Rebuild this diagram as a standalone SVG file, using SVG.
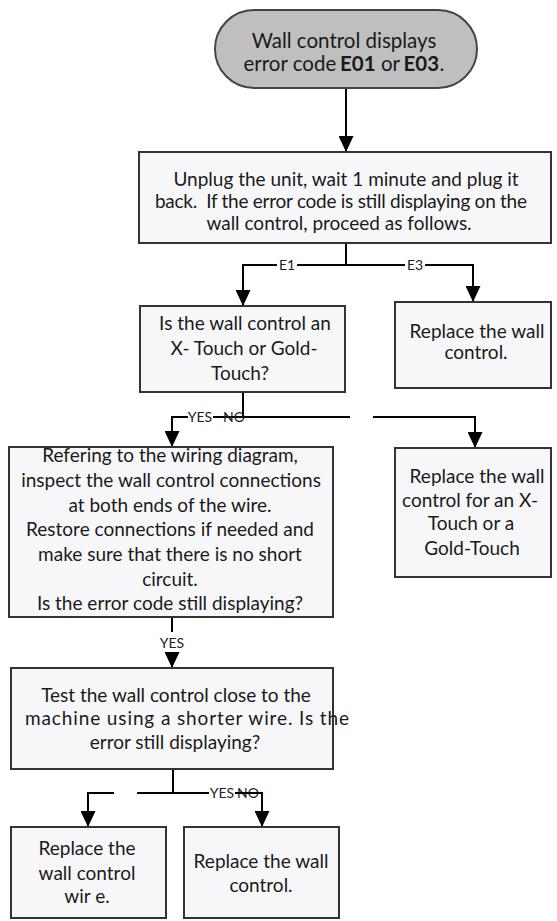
<svg xmlns="http://www.w3.org/2000/svg" width="557" height="921" viewBox="0 0 557 921">
<defs>
<marker id="ah" markerUnits="userSpaceOnUse" markerWidth="16" markerHeight="15" viewBox="0 0 16 15" refX="16" refY="7.5" orient="auto">
<path d="M0,0 L16,7.5 L0,15 Z" fill="#000"/>
</marker>
<style>
.box{fill:#f7f7f9;stroke:#333;stroke-width:2}
.term{fill:#bfbfbf;stroke:#444;stroke-width:2}
.t{font-family:Lato,"Liberation Sans",sans-serif;font-size:19px;fill:#1a1a1a;text-anchor:middle}
.s{font-family:Lato,"Liberation Sans",sans-serif;font-size:20.5px;fill:#1a1a1a}
.b{font-weight:bold}
.lbl{font-family:Lato,"Liberation Sans",sans-serif;font-size:14px;fill:#222;text-anchor:middle}
.c{fill:none;stroke:#000;stroke-width:2}
.ca{fill:none;stroke:#000;stroke-width:2;marker-end:url(#ah)}
</style>
</defs>
<rect width="557" height="921" fill="#fff"/>
<g id="connectors">
<path class="ca" d="M346,88 V152"/>
<path class="c" d="M346,243 V265"/>
<path class="ca" d="M346,265 H243 V306"/>
<path class="ca" d="M346,265 H473 V302"/>
<rect x="277" y="257" width="20" height="16" fill="#fff"/>
<text class="lbl" x="287" y="270">E1</text>
<rect x="405" y="257" width="20" height="16" fill="#fff"/>
<text class="lbl" x="415" y="270">E3</text>
<path class="c" d="M243,392 V417"/>
<path class="ca" d="M243,417 H172 V447"/>
<text class="lbl" x="234" y="422">NO</text>
<path class="c" d="M243,417 H350"/>
<path class="ca" d="M373,417 H475 V448"/>
<rect x="188" y="409" width="25" height="16" fill="#fff"/>
<text class="lbl" x="200" y="422">YES</text>
<path class="c" d="M172,617 V632"/>
<text class="lbl" x="172" y="648">YES</text>
<path class="ca" d="M172,652 V668"/>
<path class="c" d="M173,769 V793"/>
<path class="ca" d="M114,793 H88 V827"/>
<text class="lbl" x="248" y="798">NO</text>
<path class="c" d="M137,793 H210"/>
<path class="ca" d="M173,793 H262 V827"/>
<rect x="209" y="785" width="26" height="16" fill="#fff"/>
<text class="lbl" x="222" y="798">YES</text>
</g>
<g id="start">
<rect class="term" x="215" y="10" width="262" height="78" rx="39" ry="39"/>
<text class="s" x="344" y="48" text-anchor="middle">Wall control displays</text>
<text class="s" x="243.5" y="71">error code</text>
<text class="s b" x="340" y="71">E01</text>
<text class="s" x="381" y="71">or</text>
<text class="s b" x="403.5" y="71">E03</text>
<text class="s" x="439.5" y="71">.</text>
</g>
<g id="unplug">
<rect class="box" x="139" y="152" width="412" height="91"/>
<text class="t"><tspan x="346" y="186">Unplug the unit, wait 1 minute and plug it</tspan><tspan x="341" y="208" textLength="372" lengthAdjust="spacing">back.&#160; If the error code is still displaying on the</tspan><tspan x="339" y="230">wall control, proceed as follows.</tspan></text>
</g>
<g id="is-xtouch">
<rect class="box" x="140" y="306" width="205" height="86"/>
<text class="t"><tspan x="245" y="330">Is the wall control an</tspan><tspan x="244" y="355">X- Touch or Gold-</tspan><tspan x="240" y="380">Touch?</tspan></text>
</g>
<g id="replace-control-e3">
<rect class="box" x="395" y="302" width="156" height="86"/>
<text class="t"><tspan x="477" y="338">Replace the wall</tspan><tspan x="476" y="359">control.</tspan></text>
</g>
<g id="inspect">
<rect class="box" x="9" y="447" width="324" height="170"/>
<text class="t"><tspan x="170" y="462">Refering to the wiring diagram,</tspan><tspan x="171" y="487">inspect the wall control connections</tspan><tspan x="170" y="512">at both ends of the wire.</tspan><tspan x="170" y="536">Restore connections if needed and</tspan><tspan x="170" y="561">make sure that there is no short</tspan><tspan x="170" y="586">circuit.</tspan><tspan x="170" y="610">Is the error code still displaying?</tspan></text>
</g>
<g id="replace-xtouch">
<rect class="box" x="395" y="448" width="156" height="129"/>
<text class="t"><tspan x="477" y="483">Replace the wall</tspan><tspan x="470" y="507">control for an X-</tspan><tspan x="471" y="530">Touch or a</tspan><tspan x="472" y="555">Gold-Touch</tspan></text>
</g>
<g id="test-short">
<rect class="box" x="11" y="668" width="322" height="101"/>
<text class="t"><tspan x="176" y="702">Test the wall control close to the</tspan><tspan x="187" y="725" textLength="324" lengthAdjust="spacing">machine using a shorter wire. Is the</tspan><tspan x="175" y="749">error still displaying?</tspan></text>
</g>
<g id="replace-wire">
<rect class="box" x="11" y="827" width="155" height="91"/>
<text class="t"><tspan x="87" y="855">Replace the</tspan><tspan x="87" y="880">wall control</tspan><tspan x="87" y="903">wir e.</tspan></text>
</g>
<g id="replace-control">
<rect class="box" x="184" y="827" width="155" height="91"/>
<text class="t"><tspan x="261" y="868">Replace the wall</tspan><tspan x="261" y="892">control.</tspan></text>
</g>
</svg>
